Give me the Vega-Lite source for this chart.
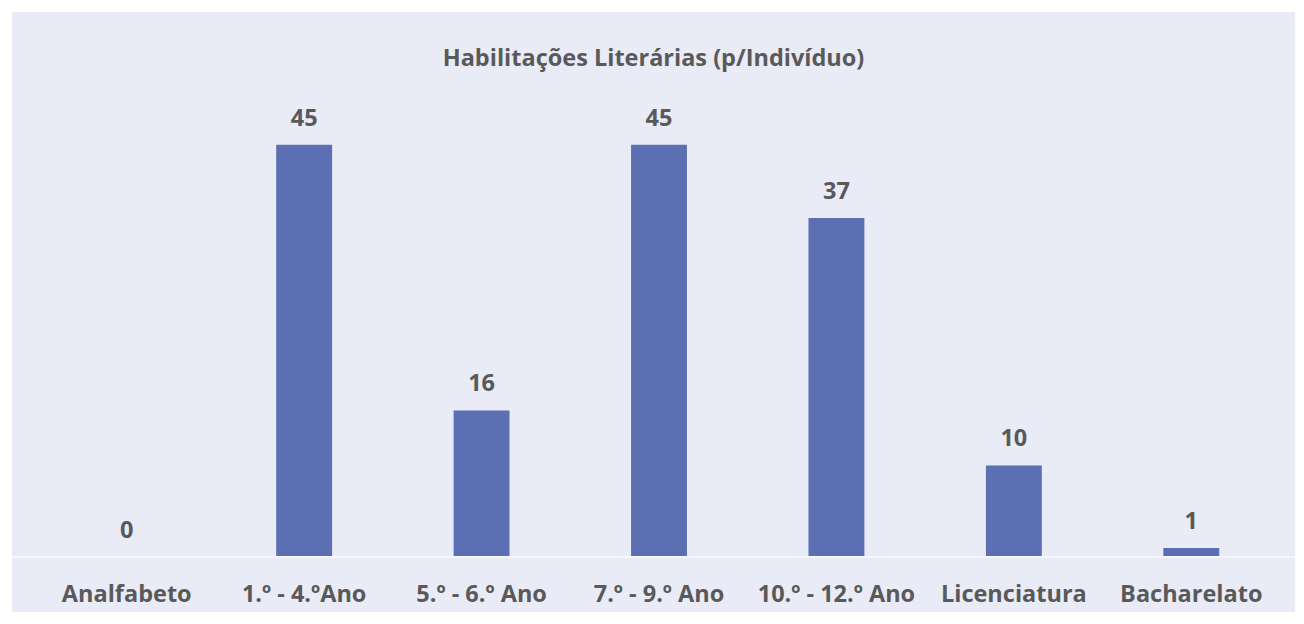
{
  "$schema": "https://vega.github.io/schema/vega-lite/v6.json",
  "width": 1283,
  "height": 600,
  "autosize": {"type": "none"},
  "padding": {"left": 12, "top": 12, "right": 9, "bottom": 12},
  "background": "#ffffff",
  "config": {
    "view": {"fill": "#e9ebf7", "stroke": null},
    "font": "Open Sans"
  },
  "title": {
    "text": "Habilitações Literárias (p/Indivíduo)",
    "font": "Open Sans",
    "fontSize": 23.5,
    "fontWeight": "bold",
    "color": "#595959",
    "anchor": "middle",
    "offset": -58
  },
  "data": {
    "values": [
      {"cat": "Analfabeto", "n": 0},
      {"cat": "1.º - 4.ºAno", "n": 45},
      {"cat": "5.º - 6.º Ano", "n": 16},
      {"cat": "7.º - 9.º Ano", "n": 45},
      {"cat": "10.º - 12.º Ano", "n": 37},
      {"cat": "Licenciatura", "n": 10},
      {"cat": "Bacharelato", "n": 1}
    ]
  },
  "encoding": {
    "x": {
      "field": "cat",
      "type": "nominal",
      "sort": null,
      "scale": {"range": [26, 1268], "paddingInner": 0.685, "paddingOuter": 0.3425},
      "axis": {
        "title": null,
        "labelAngle": 0,
        "ticks": false,
        "domain": false,
        "labelFont": "Open Sans",
        "labelFontSize": 23.5,
        "labelFontWeight": "bold",
        "labelColor": "#595959",
        "labelPadding": -30,
        "labelBaseline": "top"
      }
    },
    "y": {
      "field": "n",
      "type": "quantitative",
      "scale": {"domain": [-6.0, 59.5], "nice": false, "zero": false},
      "axis": null
    }
  },
  "layer": [
    {"mark": {"type": "bar", "color": "#5c6fb2"}},
    {
      "mark": {"type": "rule", "color": "#f6f7fd", "strokeWidth": 1.5},
      "encoding": {"y": {"datum": 0}, "x": null}
    },
    {
      "mark": {
        "type": "text",
        "font": "Open Sans",
        "fontSize": 23.5,
        "fontWeight": "bold",
        "color": "#595959",
        "baseline": "alphabetic",
        "dy": -19
      },
      "encoding": {"text": {"field": "n", "type": "quantitative"}}
    }
  ]
}
